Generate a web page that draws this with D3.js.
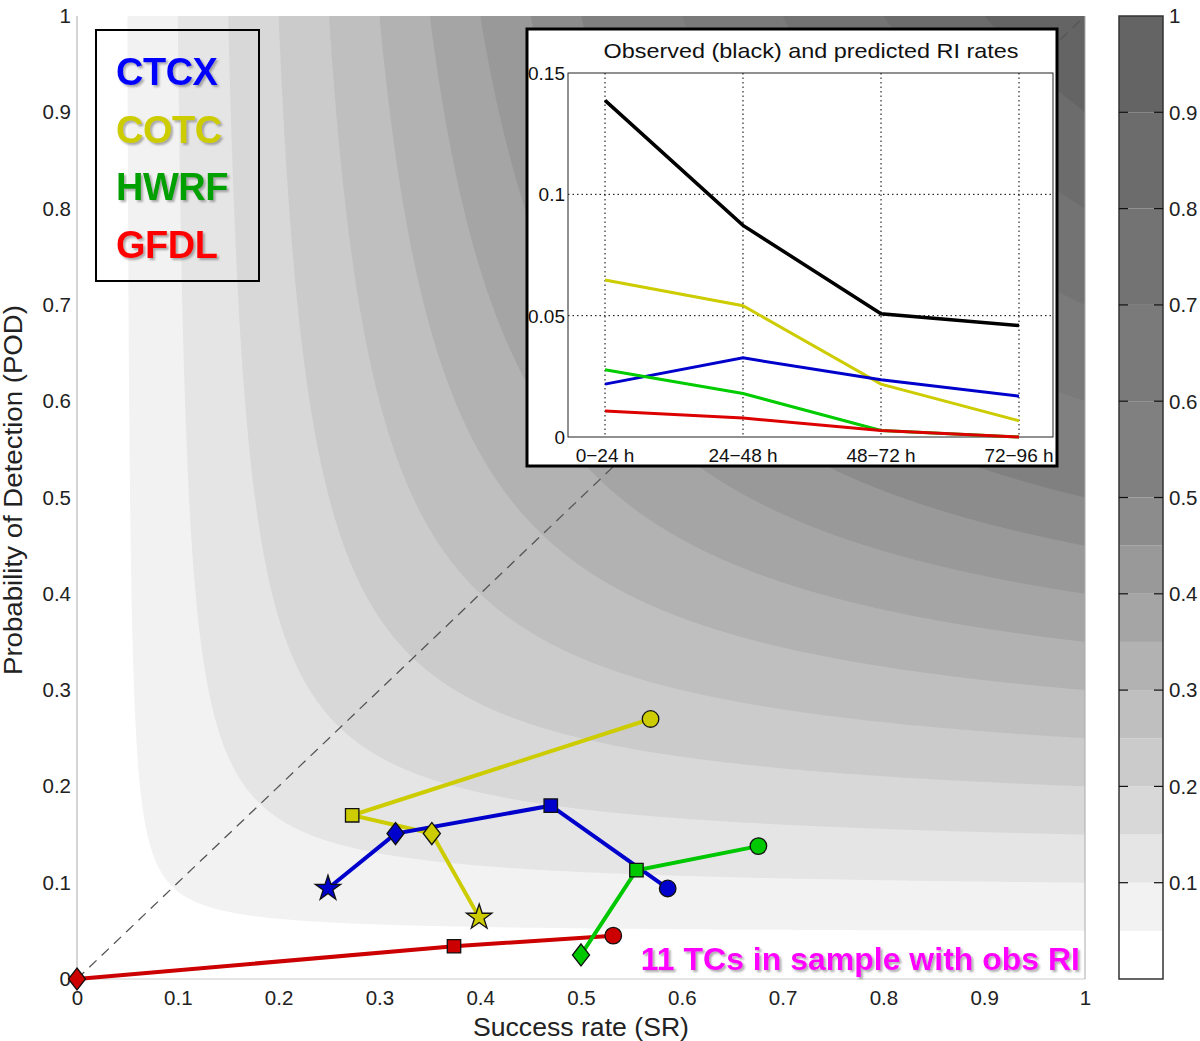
<html>
<head>
<meta charset="utf-8">
<script src="https://cdn.jsdelivr.net/npm/d3@7"></script>
<style>
  body { margin: 0; background: #fff; }
  text { font-family: Arial, "Liberation Sans", sans-serif; }
</style>
</head>
<body>
<div id="cont"></div>
<script>
// ---- data ----
var csiLevels = [0, 0.05, 0.1, 0.15, 0.2, 0.25, 0.3, 0.35, 0.4, 0.45, 0.5, 0.6, 0.7, 0.8, 0.9];
var srTicks = [0, 0.1, 0.2, 0.3, 0.4, 0.5, 0.6, 0.7, 0.8, 0.9, 1];
var podTicks = [0, 0.1, 0.2, 0.3, 0.4, 0.5, 0.6, 0.7, 0.8, 0.9, 1];
var cbTicks = [0.1, 0.2, 0.3, 0.4, 0.5, 0.6, 0.7, 0.8, 0.9, 1];

var models = ["CTCX", "COTC", "HWRF", "GFDL"];
var periods = ["0\u221224 h", "24\u221248 h", "48\u221272 h", "72\u221296 h"];
var periodMarks = ["circle", "square", "diamond", "star"];

// success rate / POD per period (circle, square, diamond, star)
var ctcxSR  = [0.586, 0.470, 0.316, 0.249];
var ctcxPOD = [0.094, 0.180, 0.151, 0.094];
var cotcSR  = [0.569, 0.273, 0.352, 0.399];
var cotcPOD = [0.270, 0.170, 0.151, 0.064];
var hwrfSR  = [0.676, 0.555, 0.500];
var hwrfPOD = [0.138, 0.113, 0.025];
var gfdlSR  = [0.532, 0.374, 0];
var gfdlPOD = [0.045, 0.034, 0];

// inset: observed and predicted RI rates
var obsRate  = [0.1387, 0.0872, 0.0508, 0.0459];
var ctcxRate = [0.0218, 0.0326, 0.0236, 0.0168];
var cotcRate = [0.0647, 0.0541, 0.0218, 0.0067];
var hwrfRate = [0.0277, 0.0179, 0.0027, 0];
var gfdlRate = [0.0107, 0.0078, 0.0027, 0];
var rateTicks = [0, 0.05, 0.1, 0.15];

// ---- style ----
var bandGray = [255, 242, 229, 216, 203, 191, 178, 165, 153, 140, 128, 122, 115, 108, 100];
var colors = { CTCX: "#0000cc", COTC: "#cccc00", HWRF: "#00c800", GFDL: "#cc0000" };
var legendColors = { CTCX: "#0000ff", COTC: "#cccc00", HWRF: "#00a000", GFDL: "#ff0000" };

var W = 1200, H = 1041;
var svg = d3.select("#cont").append("svg").attr("width", W).attr("height", H);

var defs = svg.append("defs");
var f = defs.append("filter").attr("id", "shadow").attr("x", "-10%").attr("y", "-10%")
    .attr("width", "130%").attr("height", "140%");
f.append("feDropShadow").attr("dx", 2).attr("dy", 2).attr("stdDeviation", 1.2)
    .attr("flood-color", "#666").attr("flood-opacity", 0.55);

var x = d3.scaleLinear().domain([0, 1]).range([77, 1085]);
var y = d3.scaleLinear().domain([0, 1]).range([979, 16]);

// ---- CSI filled contours ----
var n = 400;
var vals = new Array(n * n);
for (var j = 0; j < n; j++) {
    for (var i = 0; i < n; i++) {
        var sr = (i + 0.5) / n, pod = 1 - (j + 0.5) / n;
        vals[i + j * n] = 1 / (1 / sr + 1 / pod - 1);
    }
}
var contours = d3.contours().size([n, n]).thresholds(csiLevels.slice(1))(vals);
var proj = d3.geoTransform({
    point: function (gx, gy) { this.stream.point(x(gx / n), y(1 - gy / n)); }
});
var gpath = d3.geoPath(proj);

svg.append("clipPath").attr("id", "plotclip").append("rect")
    .attr("x", x(0)).attr("y", y(1)).attr("width", x(1) - x(0)).attr("height", y(0) - y(1));

var plot = svg.append("g").attr("clip-path", "url(#plotclip)");
plot.append("rect").attr("x", x(0)).attr("y", y(1))
    .attr("width", x(1) - x(0)).attr("height", y(0) - y(1)).attr("fill", "#fff");
plot.selectAll("path.band").data(contours).enter().append("path")
    .attr("class", "band")
    .attr("d", gpath)
    .attr("fill", function (d, k) { var g = bandGray[k + 1]; return d3.rgb(g, g, g); })
    .attr("stroke", "none");

// diagonal
plot.append("line").attr("x1", x(0)).attr("y1", y(0)).attr("x2", x(1)).attr("y2", y(1))
    .attr("stroke", "#555").attr("stroke-width", 1.3).attr("stroke-dasharray", "10,7");

// frame
svg.append("line").attr("x1", x(0)).attr("x2", x(0)).attr("y1", y(0)).attr("y2", y(1))
    .attr("stroke", "#aaa").attr("stroke-width", 1);
svg.append("line").attr("x1", x(0)).attr("x2", x(1)).attr("y1", y(0)).attr("y2", y(0))
    .attr("stroke", "#ccc").attr("stroke-width", 1);
svg.append("line").attr("x1", x(1)).attr("x2", x(1)).attr("y1", y(0)).attr("y2", y(1))
    .attr("stroke", "#aaa").attr("stroke-width", 1);

// axes
var fmt = function (d) { return d === 0 || d === 1 ? d : d3.format(".1f")(d); };
var xAxis = d3.axisBottom(x).tickValues(srTicks).tickSize(0).tickPadding(11).tickFormat(fmt);
var gx = svg.append("g").attr("transform", "translate(0," + y(0) + ")").call(xAxis);
gx.select(".domain").remove();
gx.selectAll("text").attr("font-size", 20.5).attr("fill", "#222");

var yAxis = d3.axisLeft(y).tickValues(podTicks).tickSize(0).tickPadding(6).tickFormat(fmt);
var gy = svg.append("g").attr("transform", "translate(" + x(0) + ",0)").call(yAxis);
gy.select(".domain").remove();
gy.selectAll("text").attr("font-size", 20.5).attr("fill", "#222");

svg.append("text").attr("x", x(0.5)).attr("y", 1036).attr("text-anchor", "middle")
    .attr("font-size", 25).attr("fill", "#222")
    .attr("textLength", 216).attr("lengthAdjust", "spacingAndGlyphs")
    .text("Success rate (SR)");
svg.append("text").attr("transform", "translate(22," + 490 + ") rotate(-90)")
    .attr("text-anchor", "middle").attr("font-size", 25).attr("fill", "#222")
    .attr("textLength", 370).attr("lengthAdjust", "spacingAndGlyphs")
    .text("Probability of Detection (POD)");

// ---- model tracks ----
var series = [
    { name: "GFDL", sr: gfdlSR, pod: gfdlPOD },
    { name: "COTC", sr: cotcSR, pod: cotcPOD },
    { name: "CTCX", sr: ctcxSR, pod: ctcxPOD },
    { name: "HWRF", sr: hwrfSR, pod: hwrfPOD }
];
var line = d3.line().x(function (d) { return x(d[0]); }).y(function (d) { return y(d[1]); });
series.forEach(function (s) {
    var pts = s.sr.map(function (v, k) { return [v, s.pod[k]]; });
    svg.append("path").attr("d", line(pts)).attr("fill", "none")
        .attr("stroke", colors[s.name]).attr("stroke-width", 4);
});
var symType = { circle: d3.symbolCircle, square: d3.symbolSquare, diamond: d3.symbolDiamond, star: d3.symbolStar };
var symSize = { circle: 215, square: 180, diamond: 140, star: 200 };
series.forEach(function (s) {
    s.sr.forEach(function (v, k) {
        var m = periodMarks[k];
        var tr = "translate(" + x(v) + "," + y(s.pod[k]) + ")";
        if (m === "diamond") tr += " scale(1.34,1)";
        svg.append("path").attr("d", d3.symbol().type(symType[m]).size(symSize[m])())
            .attr("transform", tr)
            .attr("fill", colors[s.name]).attr("stroke", "#111")
            .attr("stroke-width", m === "diamond" ? 1.1 : 1.3);
    });
});

// ---- legend ----
svg.append("rect").attr("x", 96).attr("y", 30).attr("width", 163).attr("height", 251)
    .attr("fill", "none").attr("stroke", "#000").attr("stroke-width", 2);
models.forEach(function (m, k) {
    svg.append("text").attr("x", 116).attr("y", 85 + k * 57.7)
        .attr("font-family", "Lato, 'Open Sans', sans-serif").attr("font-weight", "bold")
        .attr("font-size", 38).attr("letter-spacing", -0.5)
        .attr("fill", legendColors[m]).attr("filter", "url(#shadow)")
        .text(m);
});

svg.append("text").attr("x", 1080).attr("y", 970).attr("text-anchor", "end")
    .attr("font-family", "Lato, 'Open Sans', sans-serif").attr("font-weight", "bold")
    .attr("font-size", 32).attr("fill", "#ff00ff").attr("filter", "url(#shadow)")
    .text("11 TCs in sample with obs RI");

// ---- colorbar ----
var cbx = 1119, cbw = 44;
svg.selectAll("rect.cb").data(csiLevels).enter().append("rect")
    .attr("class", "cb")
    .attr("x", cbx)
    .attr("y", function (d, k) { return y(k + 1 < csiLevels.length ? csiLevels[k + 1] : 1); })
    .attr("width", cbw)
    .attr("height", function (d, k) { return y(d) - y(k + 1 < csiLevels.length ? csiLevels[k + 1] : 1); })
    .attr("fill", function (d, k) { var g = bandGray[k]; return d3.rgb(g, g, g); });
svg.append("rect").attr("x", cbx).attr("y", y(1)).attr("width", cbw).attr("height", y(0) - y(1))
    .attr("fill", "none").attr("stroke", "#333").attr("stroke-width", 1.5);
cbTicks.forEach(function (t) {
    if (t < 1) {
        svg.append("line").attr("x1", cbx).attr("x2", cbx + 9).attr("y1", y(t)).attr("y2", y(t))
            .attr("stroke", "#111").attr("stroke-width", 1.2);
        svg.append("line").attr("x1", cbx + cbw - 9).attr("x2", cbx + cbw).attr("y1", y(t)).attr("y2", y(t))
            .attr("stroke", "#111").attr("stroke-width", 1.2);
    }
    svg.append("text").attr("x", cbx + cbw + 6).attr("y", y(t)).attr("dy", "0.36em")
        .attr("font-size", 20.5).attr("fill", "#222").text(t === 1 ? "1" : d3.format(".1f")(t));
});

// ---- inset ----
var ix = d3.scalePoint().domain(periods).range([605, 1019]);
var iy = d3.scaleLinear().domain([0, 0.15]).range([437, 73]);
var inset = svg.append("g");
inset.append("rect").attr("x", 527).attr("y", 29).attr("width", 530).attr("height", 437)
    .attr("fill", "#fff");
inset.append("text").attr("x", 811).attr("y", 58).attr("text-anchor", "middle")
    .attr("font-size", 21).attr("fill", "#111")
    .attr("textLength", 415).attr("lengthAdjust", "spacingAndGlyphs")
    .text("Observed (black) and predicted RI rates");

// grid
periods.forEach(function (p) {
    inset.append("line").attr("x1", ix(p)).attr("x2", ix(p)).attr("y1", iy(0.15)).attr("y2", iy(0))
        .attr("stroke", "#000").attr("stroke-width", 1).attr("stroke-dasharray", "1.5,3");
});
[0.05, 0.1].forEach(function (t) {
    inset.append("line").attr("x1", 568).attr("x2", 1053).attr("y1", iy(t)).attr("y2", iy(t))
        .attr("stroke", "#000").attr("stroke-width", 1).attr("stroke-dasharray", "1.5,3");
});
inset.append("rect").attr("x", 568).attr("y", iy(0.15)).attr("width", 1053 - 568)
    .attr("height", iy(0) - iy(0.15)).attr("fill", "none").attr("stroke", "#222").attr("stroke-width", 1);

var iline = d3.line().x(function (d, k) { return ix(periods[k]); }).y(function (d) { return iy(d); });
var rates = [
    { v: obsRate, c: "#000", w: 3.5 },
    { v: cotcRate, c: "#cccc00", w: 3 },
    { v: ctcxRate, c: "#0000cc", w: 3 },
    { v: hwrfRate, c: "#00cc00", w: 3 },
    { v: gfdlRate, c: "#dd0000", w: 3 }
];
rates.forEach(function (r) {
    inset.append("path").attr("d", iline(r.v)).attr("fill", "none")
        .attr("stroke", r.c).attr("stroke-width", r.w);
});

rateTicks.forEach(function (t) {
    inset.append("text").attr("x", 565).attr("y", iy(t)).attr("dy", "0.36em").attr("text-anchor", "end")
        .attr("font-size", 19).attr("fill", "#111").text(t === 0 ? "0" : String(t));
});
periods.forEach(function (p) {
    inset.append("text").attr("x", ix(p)).attr("y", 462).attr("text-anchor", "middle")
        .attr("font-size", 19).attr("fill", "#111").text(p);
});
inset.append("rect").attr("x", 527).attr("y", 29).attr("width", 530).attr("height", 437)
    .attr("fill", "none").attr("stroke", "#000").attr("stroke-width", 3);
</script>
</body>
</html>
